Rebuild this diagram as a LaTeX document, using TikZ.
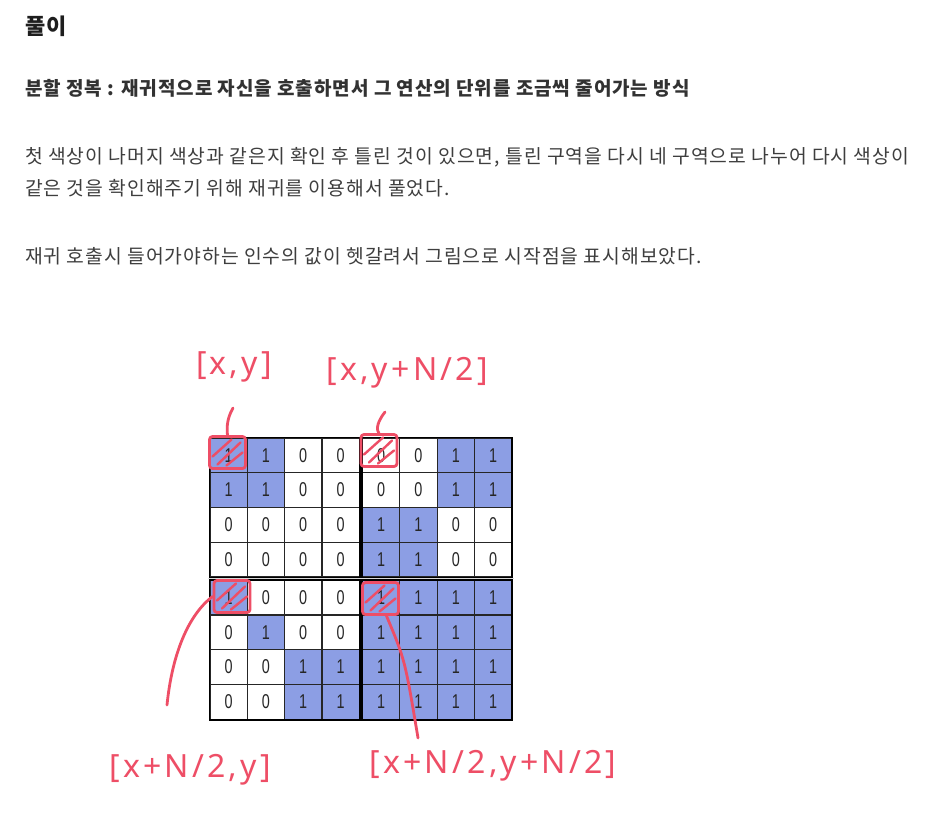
\documentclass[tikz,border=0pt]{standalone}
\usepackage{fontspec}
\usepackage{xcolor}
\usepackage{tikz}
\newfontfamily\kr[LetterSpace=5]{Noto Sans CJK KR}
\newfontfamily\hand[LetterSpace=10]{Noto Sans}
\newfontfamily\digitfont{Liberation Sans}
\definecolor{CellBlue}{RGB}{140,158,228}
\definecolor{PenRed}{RGB}{238,78,102}
\definecolor{HeadInk}{RGB}{30,30,30}
\definecolor{SubInk}{RGB}{50,50,50}
\definecolor{BodyInk}{RGB}{62,62,62}
\newcommand{\celltxt}[1]{\scalebox{0.72}[1]{#1}}
\tikzset{
  heading/.style={anchor=west, inner sep=0pt, text=HeadInk, font=\kr\bfseries\fontsize{22}{22}\selectfont},
  subhead/.style={anchor=west, inner sep=0pt, text=SubInk, font=\kr\bfseries\fontsize{19}{19}\selectfont},
  bodytxt/.style={anchor=west, inner sep=0pt, text=BodyInk, font=\kr\fontsize{19.3}{19.3}\selectfont},
  cell/.style={draw=black!85, line width=1.2pt, minimum width=37.3pt, minimum height=34.7pt,
    inner sep=0pt, text=black!85, font=\digitfont\fontsize{20}{20}\selectfont},
  quad/.style={draw=black, line width=1.8pt},
  seam/.style={draw=gray!30, line width=1.5pt},
  pen/.style={draw=PenRed, line width=2.8pt, line cap=round, line join=round},
  startmark/.style={pen, rounded corners=3pt, minimum width=36pt, minimum height=32pt, inner sep=0pt,
    path picture={
      \draw[PenRed, line width=2.4pt, line cap=round]
        ([xshift=3pt,yshift=12pt]path picture bounding box.south west) --
        ([xshift=-14pt,yshift=-3pt]path picture bounding box.north east);
      \draw[PenRed, line width=2.4pt, line cap=round]
        ([xshift=8pt,yshift=4pt]path picture bounding box.south west) --
        ([xshift=-5pt,yshift=-6pt]path picture bounding box.north east);
      \draw[PenRed, line width=2.4pt, line cap=round]
        ([xshift=17pt,yshift=3pt]path picture bounding box.south west) --
        ([xshift=-3pt,yshift=-16pt]path picture bounding box.north east);
    }},
  penlabel/.style={inner sep=0pt, text=PenRed, font=\hand\fontsize{32}{32}\selectfont},
}

\begin{document}
\begin{tikzpicture}[x=1pt, y=-1pt]
  \fill[white] (0,0) rectangle (943,813);
  \useasboundingbox (0,0) rectangle (943,813);

  \node[heading] (title) at (25,26) {풀이};
  \node[subhead] (sub) at (25,88) {분할 정복 : 재귀적으로 자신을 호출하면서 그 연산의 단위를 조금씩 줄어가는 방식};
  \node[bodytxt] (p1) at (25,157) {첫 색상이 나머지 색상과 같은지 확인 후 틀린 것이 있으면, 틀린 구역을 다시 네 구역으로 나누어 다시 색상이};
  \node[bodytxt] (p2) at (25,188) {같은 것을 확인해주기 위해 재귀를 이용해서 풀었다.};
  \node[bodytxt] (p3) at (25,256) {재귀 호출시 들어가야하는 인수의 값이 헷갈려서 그림으로 시작점을 표시해보았다.};

  \foreach \row [count=\i] in {{1,1,0,0,0,0,1,1},{1,1,0,0,0,0,1,1},{0,0,0,0,1,1,0,0},{0,0,0,0,1,1,0,0},
                               {1,0,0,0,1,1,1,1},{0,1,0,0,1,1,1,1},{0,0,1,1,1,1,1,1},{0,0,1,1,1,1,1,1}} {
    \foreach \v [count=\j] in \row {
      \pgfmathsetmacro\cx{210+37.3*(\j-0.5)+3.3*(\j>4)}
      \pgfmathsetmacro\cy{438+34.7*(\i-0.5)+3.5*(\i>4)}
      \ifnum\v=1 \def\fc{CellBlue}\else\def\fc{white}\fi
      \node[cell, fill=\fc] (c-\i-\j) at (\cx,\cy) {\celltxt{\v}};
    }
  }
  \draw[seam] (360.9,436) -- (360.9,721);
  \draw[seam] (208,578.6) -- (514,578.6);
  \draw[quad] (c-1-1.north west) rectangle (c-4-4.south east);
  \draw[quad] (c-1-5.north west) rectangle (c-4-8.south east);
  \draw[quad] (c-5-1.north west) rectangle (c-8-4.south east);
  \draw[quad] (c-5-5.north west) rectangle (c-8-8.south east);

  \node[startmark] (m1) at (227.5,452.5) {};
  \node[startmark] (m2) at (379,450.5) {};
  \node[startmark] (m3) at (232,596.5) {};
  \node[startmark] (m4) at (380.5,598.5) {};

  \node[penlabel] (l1) at (234,367) {[x,y]};
  \node[penlabel] (l2) at (407,373) {[x,y+N/2]};
  \node[penlabel] (l3) at (190,770) {[x+N/2,y]};
  \node[penlabel] (l4) at (493,766) {[x+N/2,y+N/2]};

  \coordinate (t1) at (233,408);
  \coordinate (t2) at (385,412);
  \coordinate (t3) at (167,705);
  \coordinate (t4) at (418,738);
  \draw[pen] (t1) .. controls (226,420) and (227,430) .. (m1.north);
  \draw[pen] (t2) .. controls (374,426) and (378,432) .. (m2.north);
  \draw[pen] (t3) .. controls (172,655) and (188,615) .. (m3.west);
  \draw[pen] ([xshift=6pt]m4.south) .. controls (405,660) .. (t4);
\end{tikzpicture}
\end{document}
